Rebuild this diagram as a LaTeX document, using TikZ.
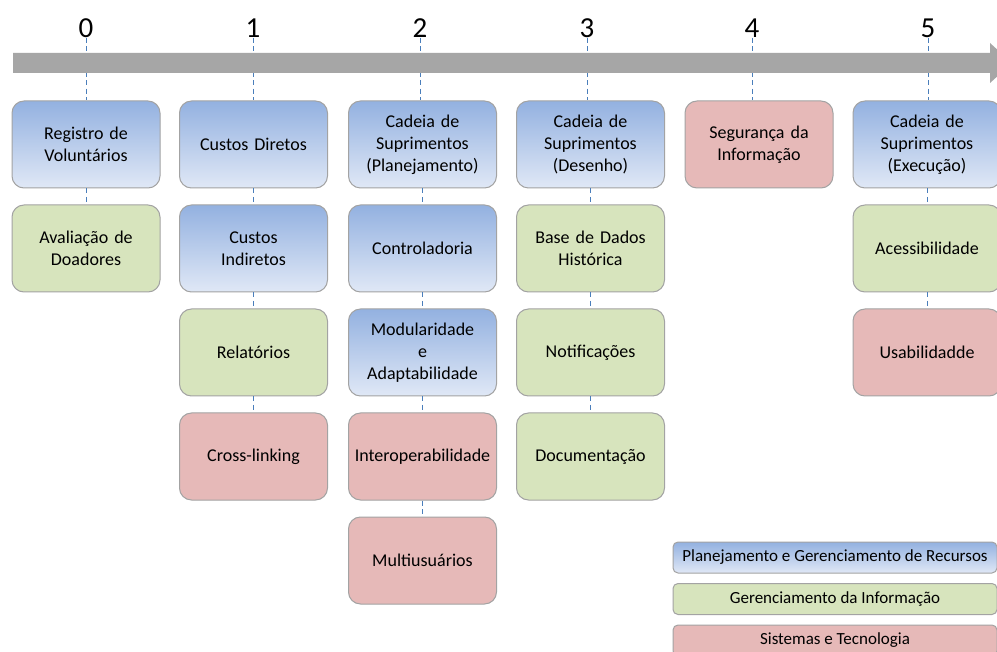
\documentclass[tikz,border=0pt]{standalone}
\usepackage{fontspec}
\setmainfont{Carlito}
\usetikzlibrary{positioning}
\definecolor{bluetop}{HTML}{93B1E0}
\definecolor{bluebot}{HTML}{E0E8F6}
\definecolor{greenf}{HTML}{D7E4BD}
\definecolor{redf}{HTML}{E6B9B8}
\definecolor{edgec}{HTML}{A3A3A3}
\definecolor{arrowc}{HTML}{A6A6A6}
\definecolor{dashc}{HTML}{4A7EBB}
\tikzset{
  card/.style={draw=edgec, line width=1pt, rounded corners=12pt, minimum width=148pt, minimum height=87pt, align=center, text width=144pt, font=\fontsize{18}{22}\selectfont, inner sep=0pt},
  bluecard/.style={card, top color=bluetop, bottom color=bluebot},
  greencard/.style={card, fill=greenf},
  redcard/.style={card, fill=redf},
  legbox/.style={draw=edgec, line width=1pt, rounded corners=5pt, minimum width=324pt, minimum height=31pt, inner sep=0pt, font=\fontsize{17}{19}\selectfont},
  num/.style={font=\fontsize{29}{31}\selectfont, inner sep=0pt},
  link/.style={draw=dashc, line width=1pt, dash pattern=on 5pt off 3.5pt},
}
\begin{document}
\begin{tikzpicture}[x=1pt,y=-1pt]
\useasboundingbox (0,0) rectangle (997,652);
\clip (0,0) rectangle (997,652);
\fill[white] (0,0) rectangle (997,652);
% numbers
\node[num] (n0) at (86,28) {0};
\node[num] (n1) at (253,28) {1};
\node[num] (n2) at (420,28) {2};
\node[num] (n3) at (587,28) {3};
\node[num] (n4) at (752,28) {4};
\node[num] (n5) at (928,28) {5};
% column 0
\node[bluecard] (a1) at (86,144.5) {Registro de\\Voluntários};
\node[greencard] (a2) at (86,248.5) {Avaliação de\\Doadores};
% column 1
\node[bluecard] (b1) at (253.5,144.5) {Custos Diretos};
\node[bluecard] (b2) at (253.5,248.5) {Custos\\Indiretos};
\node[greencard] (b3) at (253.5,352.5) {Relatórios};
\node[redcard] (b4) at (253.5,456.5) {Cross-linking};
% column 2
\node[bluecard] (c1) at (422.5,144.5) {Cadeia de\\Suprimentos\\(Planejamento)};
\node[bluecard] (c2) at (422.5,248.5) {Controladoria};
\node[bluecard] (c3) at (422.5,352.5) {Modularidade\\e\\Adaptabilidade};
\node[redcard] (c4) at (422.5,456.5) {Interoperabilidade};
\node[redcard] (c5) at (422.5,560.5) {Multiusuários};
% column 3
\node[bluecard] (d1) at (590.5,144.5) {Cadeia de\\Suprimentos\\(Desenho)};
\node[greencard] (d2) at (590.5,248.5) {Base de Dados\\Histórica};
\node[greencard] (d3) at (590.5,352.5) {Notificações};
\node[greencard] (d4) at (590.5,456.5) {Documentação};
% column 4
\node[redcard] (e1) at (759,144.5) {Segurança da\\Informação};
% column 5
\node[bluecard] (f1) at (927,144.5) {Cadeia de\\Suprimentos\\(Execução)};
\node[greencard] (f2) at (927,248.5) {Acessibilidade};
\node[redcard] (f3) at (927,352.5) {Usabilidadde};
% dashed links
\draw[link] (n0.south) -- (n0.south |- a1.north);
\draw[link] (n1.south) -- (n1.south |- b1.north);
\draw[link] (n2.south) -- (n2.south |- c1.north);
\draw[link] (n3.south) -- (n3.south |- d1.north);
\draw[link] (n4.south) -- (n4.south |- e1.north);
\draw[link] (n5.south) -- (n5.south |- f1.north);
\draw[link] (a1) -- (a2);
\draw[link] (b1) -- (b2);
\draw[link] (b2) -- (b3);
\draw[link] (b3) -- (b4);
\draw[link] (c1) -- (c2);
\draw[link] (c2) -- (c3);
\draw[link] (c3) -- (c4);
\draw[link] (c4) -- (c5);
\draw[link] (d1) -- (d2);
\draw[link] (d2) -- (d3);
\draw[link] (d3) -- (d4);
\draw[link] (f1) -- (f2);
\draw[link] (f2) -- (f3);
% timeline arrow
\fill[arrowc] (13,53) -- (990,53) -- (990,43) -- (1012,63) -- (990,83) -- (990,73) -- (13,73) -- cycle;
% legend
\node[legbox, top color=bluetop, bottom color=bluebot] (l1) at (835,557.5) {Planejamento e Gerenciamento de Recursos};
\node[legbox, fill=greenf] (l2) at (835,599) {Gerenciamento da Informação};
\node[legbox, fill=redf] (l3) at (835,640.5) {Sistemas e Tecnologia};
\end{tikzpicture}
\end{document}
